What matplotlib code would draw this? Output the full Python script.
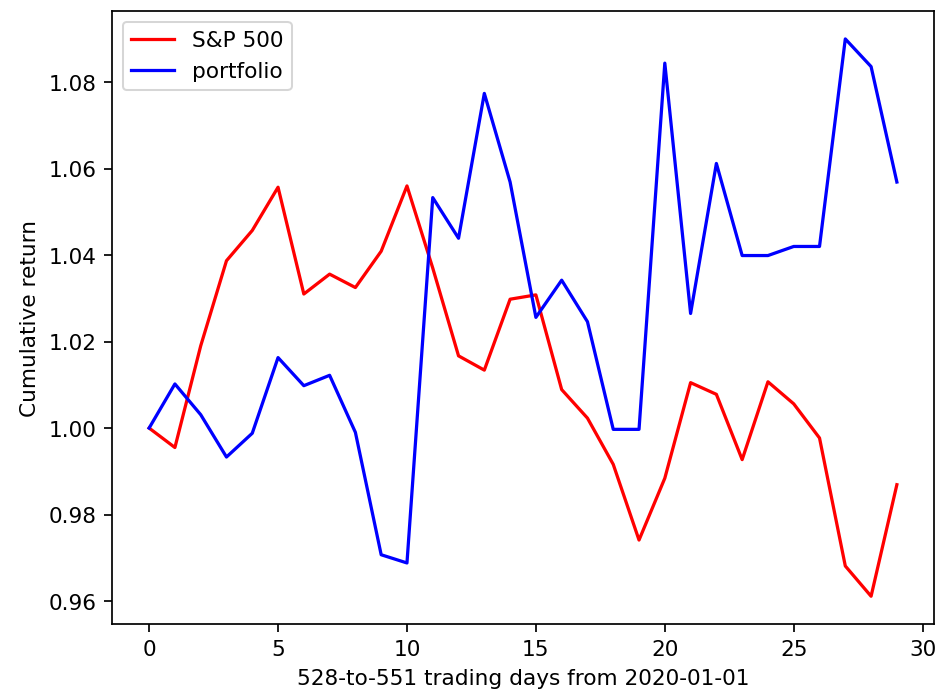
import matplotlib
matplotlib.use("Agg")
import matplotlib.pyplot as plt

days = list(range(30))
sp500 = [1.000, 0.9955, 1.019, 1.0387, 1.0457, 1.0557, 1.031, 1.0356, 1.0325, 1.0409,
         1.056, 1.037, 1.0167, 1.0134, 1.0298, 1.0308, 1.0089, 1.0023, 0.9916, 0.9741,
         0.9884, 1.0105, 1.0078, 0.9927, 1.0107, 1.0056, 0.9977, 0.9681, 0.9611, 0.9869]
portfolio = [1.000, 1.0102, 1.0031, 0.9933, 0.9988, 1.0163, 1.0098, 1.0122, 0.999, 0.9707,
             0.9688, 1.0533, 1.0439, 1.0774, 1.0569, 1.0256, 1.0342, 1.0246, 0.9997, 0.9997,
             1.0844, 1.0265, 1.0612, 1.0399, 1.0399, 1.042, 1.042, 1.090, 1.0836, 1.0569]

s = 1.066
plt.rcParams.update({
    "font.size": 10 * s,
    "lines.linewidth": 1.5 * s,
    "axes.linewidth": 0.8 * s,
    "xtick.major.width": 0.8 * s,
    "ytick.major.width": 0.8 * s,
    "xtick.major.size": 3.5 * s,
    "ytick.major.size": 3.5 * s,
    "xtick.major.pad": 3.5 * s,
    "ytick.major.pad": 3.5 * s,
    "axes.labelpad": 4.0 * s,
})

fig = plt.figure(figsize=(6.44, 4.8), dpi=145.8)
ax = fig.add_axes([0.119, 0.107, 0.876, 0.876])
ax.plot(days, sp500, color="red", label="S&P 500")
ax.plot(days, portfolio, color="blue", label="portfolio")
ax.set_xlabel("528-to-551 trading days from 2020-01-01")
ax.set_ylabel("Cumulative return")
ax.legend(loc="upper left")
fig.savefig("out.png")
